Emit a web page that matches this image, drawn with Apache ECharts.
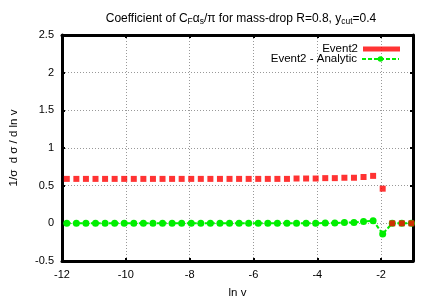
<!DOCTYPE html>
<html><head><meta charset="utf-8">
<script src="https://cdn.jsdelivr.net/npm/echarts@6/dist/echarts.min.js"></script>
<style>html,body{margin:0;padding:0;background:#fff}#c{width:434px;height:304px}</style>
</head><body><div id="c"></div>
<script>
const lnv = [-11.85,-11.55,-11.25,-10.95,-10.65,-10.35,-10.05,-9.75,-9.45,-9.15,-8.85,-8.55,-8.25,-7.95,-7.65,-7.35,-7.05,-6.75,-6.45,-6.15,-5.85,-5.55,-5.25,-4.95,-4.65,-4.35,-4.05,-3.75,-3.45,-3.15,-2.85,-2.55,-2.25,-1.95,-1.65,-1.35,-1.05];
const event2 = [0.59,0.59,0.59,0.59,0.59,0.59,0.59,0.59,0.59,0.59,0.59,0.59,0.59,0.59,0.59,0.59,0.59,0.59,0.59,0.59,0.59,0.59,0.59,0.59,0.595,0.595,0.595,0.60,0.60,0.605,0.605,0.615,0.63,0.46,0.0,0.0,0.0];
const analytic = [0,0,0,0,0,0,0,0,0,0,0,0,0,0,0,0,0,0,0,0,0,0,0,0,0,0,0,0.005,0.005,0.01,0.01,0.025,0.035,-0.14,0,0,0];
const xTicks = [-12,-10,-8,-6,-4,-2];
const yTicks = [-0.5,0,0.5,1,1.5,2,2.5];
const names = ['Event2','Event2 - Analytic'];

const font = 'Liberation Sans, Arial, sans-serif';
const pairs = (xs, ys) => xs.map((x,i)=>[x, ys[i]]);
const chart = echarts.init(document.getElementById('c'), null, {renderer:'canvas'});
const gridLine = {show:true, lineStyle:{color:'#999', type:[1,2], width:1}};
const frame = {show:true, onZero:false, lineStyle:{color:'#000', width:3}};
const tick = {show:true, inside:true, length:3, lineStyle:{color:'#000', width:2}};
chart.setOption({
  animation:false,
  backgroundColor:'#fff',
  title:{
    text:'Coefficient of C{s|F}{g|α}{s|s}/π for mass-drop R=0.8, y{s|cut}=0.4',
    left:236, top:6, textAlign:'center',
    textStyle:{fontFamily:font, fontSize:12, fontWeight:'normal', color:'#000',
      rich:{s:{fontFamily:font, fontSize:8.5, verticalAlign:'bottom', padding:[6,0,0,0], color:'#000'},
            g:{fontFamily:font, fontSize:12, color:'#000'}}}
  },
  grid:{left:59, right:21, top:35, bottom:40, containLabel:false},
  legend:[
    {data:[{name:names[0], icon:'rect'}], orient:'vertical', right:29, top:38, align:'right',
      itemWidth:37, itemHeight:5, itemGap:2, selectedMode:false,
      textStyle:{fontFamily:font, fontSize:11.5, color:'#000'}},
    {data:[{name:names[1]}], orient:'vertical', right:29, top:48, align:'right',
      itemWidth:37, itemHeight:7, itemGap:2, selectedMode:false,
      textStyle:{fontFamily:font, fontSize:11.5, color:'#000'}}
  ],
  xAxis:[{
    type:'value', min:-12, max:-1, interval:2, position:'bottom',
    name:'ln v', nameLocation:'middle', nameGap:26,
    nameTextStyle:{fontFamily:font, fontSize:11.5, color:'#000'},
    axisLine:frame, axisTick:tick,
    axisLabel:{fontFamily:font, fontSize:11, color:'#000', margin:8, showMaxLabel:false,
      formatter:v=> xTicks.includes(v) ? String(v) : ''},
    splitLine:gridLine
  },{
    type:'value', min:-12, max:-1, interval:2, position:'top',
    axisLine:frame, axisTick:tick,
    axisLabel:{show:false}, splitLine:{show:false}
  }],
  yAxis:[{
    type:'value', min:-0.5, max:2.5, interval:0.5,
    name:'1/σ  d σ / d ln v', nameLocation:'middle', nameGap:42, nameRotate:90,
    nameTextStyle:{fontFamily:font, fontSize:11.5, color:'#000'},
    axisLine:frame, axisTick:tick,
    axisLabel:{fontFamily:font, fontSize:11, color:'#000', margin:8,
      formatter:v=> yTicks.some(t=>Math.abs(t-v)<1e-9) ? String(v) : ''},
    splitLine:gridLine
  },{
    type:'value', min:-0.5, max:2.5, interval:0.5, position:'right',
    axisLine:frame, axisTick:tick,
    axisLabel:{show:false}, splitLine:{show:false}
  }],
  series:[
    {name:names[1], type:'line', data:pairs(lnv, analytic), symbol:'circle', symbolSize:7,
      itemStyle:{color:'#00ee00'}, lineStyle:{color:'#00ee00', width:2, type:[4,2]}, z:3},
    {name:names[0], type:'scatter', data:pairs(lnv, event2), symbol:'rect', symbolSize:6,
      itemStyle:{color:'#ff0000'}, z:4}
  ]
});
</script></body></html>
